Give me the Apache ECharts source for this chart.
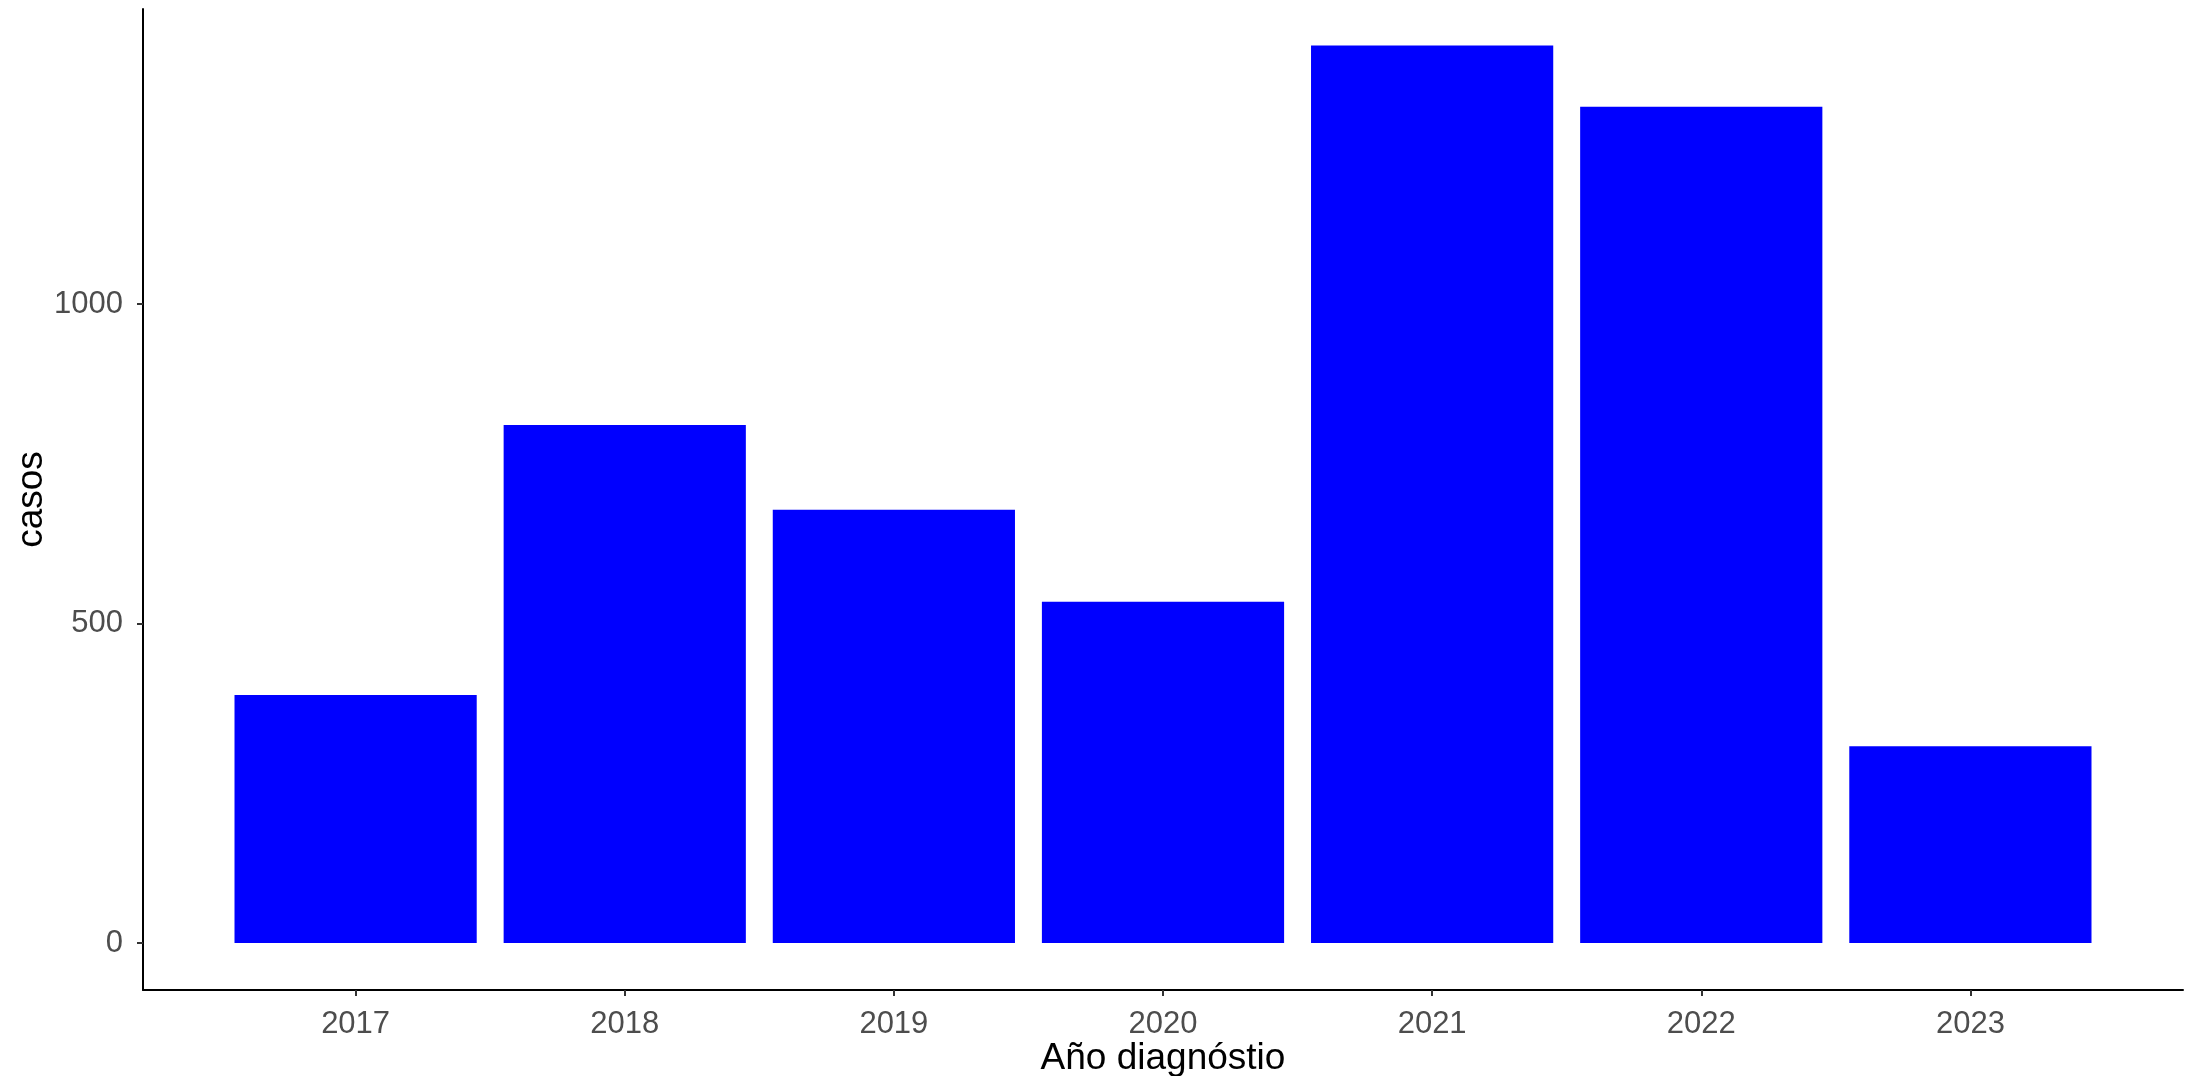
<!DOCTYPE html>
<html>
<head>
<meta charset="utf-8">
<script src="https://cdn.jsdelivr.net/npm/echarts@6/dist/echarts.min.js"></script>
<style>
html,body{margin:0;padding:0;background:#fff;}
#chart{width:2190px;height:1076px;}
</style>
</head>
<body>
<div id="chart"></div>
<script>
const years = [2017, 2018, 2019, 2020, 2021, 2022, 2023];
const casos = [388, 811, 678, 534, 1405, 1309, 308];
const yTicks = [0, 500, 1000];
const xTitle = 'Año diagnóstio';
const yTitle = 'casos';

const font = '"Liberation Sans", Arial, sans-serif';
const chart = echarts.init(document.getElementById('chart'));
chart.setOption({
  backgroundColor: '#ffffff',
  animation: false,
  grid: { left: 143, right: 7, top: 9, bottom: 86, containLabel: false, outerBoundsMode: 'none' },
  xAxis: {
    type: 'value',
    min: 2016.21,
    max: 2023.79,
    name: xTitle,
    nameLocation: 'middle',
    nameGap: 50,
    nameMoveOverlap: false,
    nameTextStyle: { fontFamily: font, fontSize: 37, color: '#000' },
    splitLine: { show: false },
    axisLine: { show: true, onZero: false, lineStyle: { color: '#000', width: 2 } },
    axisTick: { show: true, length: 6, customValues: years, lineStyle: { color: '#333', width: 2 } },
    axisLabel: {
      customValues: years,
      formatter: v => String(v),
      fontFamily: font, fontSize: 31, color: '#4d4d4d', margin: 19
    }
  },
  yAxis: {
    type: 'value',
    min: -73.6,
    max: 1462,
    name: yTitle,
    nameLocation: 'middle',
    nameGap: 93,
    nameRotate: 90,
    nameMoveOverlap: false,
    nameTextStyle: { fontFamily: font, fontSize: 37, color: '#000' },
    splitLine: { show: false },
    axisLine: { show: true, onZero: false, lineStyle: { color: '#000', width: 2 } },
    axisTick: { show: true, length: 6, customValues: yTicks, lineStyle: { color: '#333', width: 2 } },
    axisLabel: {
      customValues: yTicks,
      formatter: v => String(v),
      fontFamily: font, fontSize: 31, color: '#4d4d4d', margin: 20
    }
  },
  series: [{
    type: 'bar',
    data: years.map((y, i) => [y, casos[i]]),
    barWidth: '90%',
    itemStyle: { color: '#0000ff' }
  }]
});
</script>
</body>
</html>
